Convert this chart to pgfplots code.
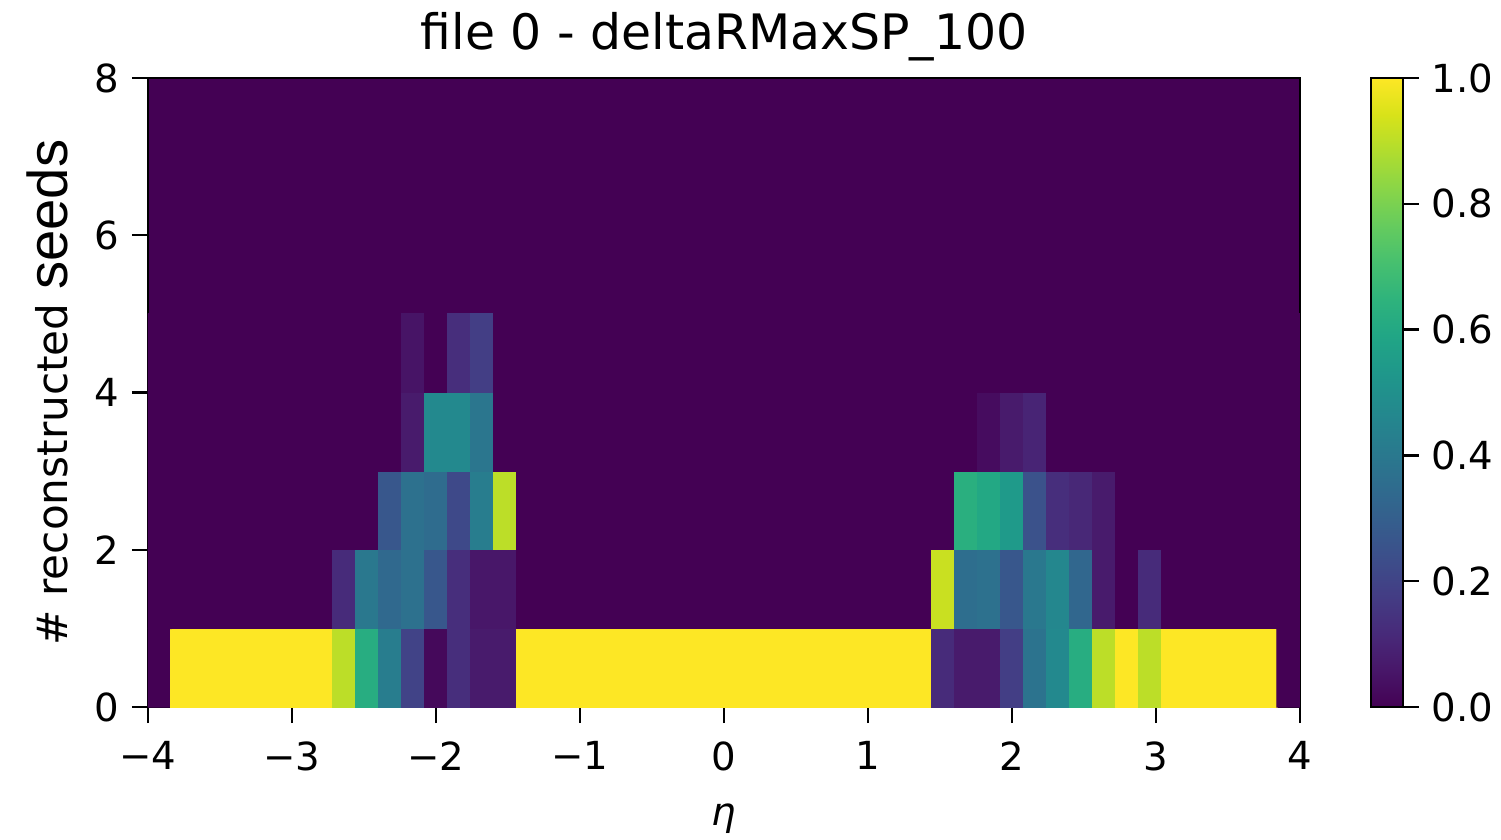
\documentclass[border=0pt]{standalone}
\usepackage{fontspec}
\usepackage{pgfplots}
\pgfplotsset{compat=1.18}
\setmainfont{DejaVu Sans}
\newfontfamily\arialfont{Liberation Sans}
\definecolor{vmin}{RGB}{68,1,84}

\begin{document}
\begin{tikzpicture}
\useasboundingbox (-14.8mm,-13.2mm) rectangle (135.3mm,70.7mm);
\begin{axis}[
  at={(0,0)}, anchor=south west,
  scale only axis,
  width=115.2mm, height=62.9mm,
  xmin=-4, xmax=4, ymin=0, ymax=8,
  axis background/.style={fill=vmin},
  axis line style={line width=0.8pt},
  xtick={-4,-3,-2,-1,0,1,2,3,4},
  xticklabels={−4,−3,−2,−1,0,1,2,3,4},
  ytick={0,2,4,6,8},
  yticklabels={0,2,4,6,8},
  tick pos=left,
  tick align=outside,
  major tick length=1.6mm,
  tick style={line width=0.7pt, black},
  ticklabel style={font=\fontsize{11}{13}\selectfont},
  xticklabel style={yshift=-0.6mm},
  title={file 0 - deltaRMaxSP\_100},
  title style={font=\fontsize{13.9}{16}\selectfont, yshift=-1.7mm},
  xlabel={\itshape η},
  xlabel style={font=\fontsize{11}{13}\selectfont, yshift=-0.9mm},
  ylabel={\# reconstructed {\arialfont\fontsize{16}{18}\selectfont seeds}},
  ylabel style={font=\fontsize{12}{14}\selectfont, yshift=0.3mm},
  colormap name=viridis,
  point meta min=0, point meta max=1,
  colorbar,
  colorbar style={
    at={(parent axis.north east)}, anchor=north west,
    xshift=4.1mm,
    width=3.2mm,
    height=62.9mm,
    ytick={0,0.2,0.4,0.6,0.8,1},
    yticklabels={0.0,0.2,0.4,0.6,0.8,1.0},
    ytick pos=right, yticklabel pos=right,
    tick align=outside,
    major tick length=1.6mm,
    tick style={line width=0.7pt, black},
    axis line style={line width=0.8pt},
    yticklabel style={font=\fontsize{11}{13}\selectfont},
  },
]
% fraction of events per eta bin with a given number of reconstructed seeds
\addplot[matrix plot*, mesh/cols=50, point meta=explicit]
table[row sep=\\, meta=c]{
x y c\\
-3.92 0.5 0\\ -3.76 0.5 1\\ -3.60 0.5 1\\ -3.44 0.5 1\\ -3.28 0.5 1\\ -3.12 0.5 1\\ -2.96 0.5 1\\ -2.80 0.5 1\\ -2.64 0.5 0.90\\ -2.48 0.5 0.62\\
-2.32 0.5 0.42\\ -2.16 0.5 0.20\\ -2.00 0.5 0.02\\ -1.84 0.5 0.13\\ -1.68 0.5 0.07\\ -1.52 0.5 0.07\\ -1.36 0.5 1\\ -1.20 0.5 1\\ -1.04 0.5 1\\ -0.88 0.5 1\\
-0.72 0.5 1\\ -0.56 0.5 1\\ -0.40 0.5 1\\ -0.24 0.5 1\\ -0.08 0.5 1\\ 0.08 0.5 1\\ 0.24 0.5 1\\ 0.40 0.5 1\\ 0.56 0.5 1\\ 0.72 0.5 1\\
0.88 0.5 1\\ 1.04 0.5 1\\ 1.20 0.5 1\\ 1.36 0.5 1\\ 1.52 0.5 0.12\\ 1.68 0.5 0.07\\ 1.84 0.5 0.07\\ 2.00 0.5 0.18\\ 2.16 0.5 0.38\\ 2.32 0.5 0.47\\
2.48 0.5 0.62\\ 2.64 0.5 0.90\\ 2.80 0.5 1\\ 2.96 0.5 0.90\\ 3.12 0.5 1\\ 3.28 0.5 1\\ 3.44 0.5 1\\ 3.60 0.5 1\\ 3.76 0.5 1\\ 3.92 0.5 0\\
-3.92 1.5 0\\ -3.76 1.5 0\\ -3.60 1.5 0\\ -3.44 1.5 0\\ -3.28 1.5 0\\ -3.12 1.5 0\\ -2.96 1.5 0\\ -2.80 1.5 0\\ -2.64 1.5 0.12\\ -2.48 1.5 0.40\\
-2.32 1.5 0.34\\ -2.16 1.5 0.37\\ -2.00 1.5 0.27\\ -1.84 1.5 0.13\\ -1.68 1.5 0.06\\ -1.52 1.5 0.06\\ -1.36 1.5 0\\ -1.20 1.5 0\\ -1.04 1.5 0\\ -0.88 1.5 0\\
-0.72 1.5 0\\ -0.56 1.5 0\\ -0.40 1.5 0\\ -0.24 1.5 0\\ -0.08 1.5 0\\ 0.08 1.5 0\\ 0.24 1.5 0\\ 0.40 1.5 0\\ 0.56 1.5 0\\ 0.72 1.5 0\\
0.88 1.5 0\\ 1.04 1.5 0\\ 1.20 1.5 0\\ 1.36 1.5 0\\ 1.52 1.5 0.92\\ 1.68 1.5 0.36\\ 1.84 1.5 0.37\\ 2.00 1.5 0.27\\ 2.16 1.5 0.40\\ 2.32 1.5 0.46\\
2.48 1.5 0.33\\ 2.64 1.5 0.07\\ 2.80 1.5 0\\ 2.96 1.5 0.12\\ 3.12 1.5 0\\ 3.28 1.5 0\\ 3.44 1.5 0\\ 3.60 1.5 0\\ 3.76 1.5 0\\ 3.92 1.5 0\\
-3.92 2.5 0\\ -3.76 2.5 0\\ -3.60 2.5 0\\ -3.44 2.5 0\\ -3.28 2.5 0\\ -3.12 2.5 0\\ -2.96 2.5 0\\ -2.80 2.5 0\\ -2.64 2.5 0\\ -2.48 2.5 0\\
-2.32 2.5 0.27\\ -2.16 2.5 0.37\\ -2.00 2.5 0.35\\ -1.84 2.5 0.22\\ -1.68 2.5 0.42\\ -1.52 2.5 0.90\\ -1.36 2.5 0\\ -1.20 2.5 0\\ -1.04 2.5 0\\ -0.88 2.5 0\\
-0.72 2.5 0\\ -0.56 2.5 0\\ -0.40 2.5 0\\ -0.24 2.5 0\\ -0.08 2.5 0\\ 0.08 2.5 0\\ 0.24 2.5 0\\ 0.40 2.5 0\\ 0.56 2.5 0\\ 0.72 2.5 0\\
0.88 2.5 0\\ 1.04 2.5 0\\ 1.20 2.5 0\\ 1.36 2.5 0\\ 1.52 2.5 0\\ 1.68 2.5 0.63\\ 1.84 2.5 0.60\\ 2.00 2.5 0.54\\ 2.16 2.5 0.25\\ 2.32 2.5 0.13\\
2.48 2.5 0.11\\ 2.64 2.5 0.07\\ 2.80 2.5 0\\ 2.96 2.5 0\\ 3.12 2.5 0\\ 3.28 2.5 0\\ 3.44 2.5 0\\ 3.60 2.5 0\\ 3.76 2.5 0\\ 3.92 2.5 0\\
-3.92 3.5 0\\ -3.76 3.5 0\\ -3.60 3.5 0\\ -3.44 3.5 0\\ -3.28 3.5 0\\ -3.12 3.5 0\\ -2.96 3.5 0\\ -2.80 3.5 0\\ -2.64 3.5 0\\ -2.48 3.5 0\\
-2.32 3.5 0\\ -2.16 3.5 0.07\\ -2.00 3.5 0.47\\ -1.84 3.5 0.47\\ -1.68 3.5 0.39\\ -1.52 3.5 0\\ -1.36 3.5 0\\ -1.20 3.5 0\\ -1.04 3.5 0\\ -0.88 3.5 0\\
-0.72 3.5 0\\ -0.56 3.5 0\\ -0.40 3.5 0\\ -0.24 3.5 0\\ -0.08 3.5 0\\ 0.08 3.5 0\\ 0.24 3.5 0\\ 0.40 3.5 0\\ 0.56 3.5 0\\ 0.72 3.5 0\\
0.88 3.5 0\\ 1.04 3.5 0\\ 1.20 3.5 0\\ 1.36 3.5 0\\ 1.52 3.5 0\\ 1.68 3.5 0\\ 1.84 3.5 0.03\\ 2.00 3.5 0.07\\ 2.16 3.5 0.10\\ 2.32 3.5 0\\
2.48 3.5 0\\ 2.64 3.5 0\\ 2.80 3.5 0\\ 2.96 3.5 0\\ 3.12 3.5 0\\ 3.28 3.5 0\\ 3.44 3.5 0\\ 3.60 3.5 0\\ 3.76 3.5 0\\ 3.92 3.5 0\\
-3.92 4.5 0\\ -3.76 4.5 0\\ -3.60 4.5 0\\ -3.44 4.5 0\\ -3.28 4.5 0\\ -3.12 4.5 0\\ -2.96 4.5 0\\ -2.80 4.5 0\\ -2.64 4.5 0\\ -2.48 4.5 0\\
-2.32 4.5 0\\ -2.16 4.5 0.05\\ -2.00 4.5 0\\ -1.84 4.5 0.13\\ -1.68 4.5 0.18\\ -1.52 4.5 0\\ -1.36 4.5 0\\ -1.20 4.5 0\\ -1.04 4.5 0\\ -0.88 4.5 0\\
-0.72 4.5 0\\ -0.56 4.5 0\\ -0.40 4.5 0\\ -0.24 4.5 0\\ -0.08 4.5 0\\ 0.08 4.5 0\\ 0.24 4.5 0\\ 0.40 4.5 0\\ 0.56 4.5 0\\ 0.72 4.5 0\\
0.88 4.5 0\\ 1.04 4.5 0\\ 1.20 4.5 0\\ 1.36 4.5 0\\ 1.52 4.5 0\\ 1.68 4.5 0\\ 1.84 4.5 0\\ 2.00 4.5 0\\ 2.16 4.5 0\\ 2.32 4.5 0\\
2.48 4.5 0\\ 2.64 4.5 0\\ 2.80 4.5 0\\ 2.96 4.5 0\\ 3.12 4.5 0\\ 3.28 4.5 0\\ 3.44 4.5 0\\ 3.60 4.5 0\\ 3.76 4.5 0\\ 3.92 4.5 0\\
};
\end{axis}
\end{tikzpicture}
\end{document}
